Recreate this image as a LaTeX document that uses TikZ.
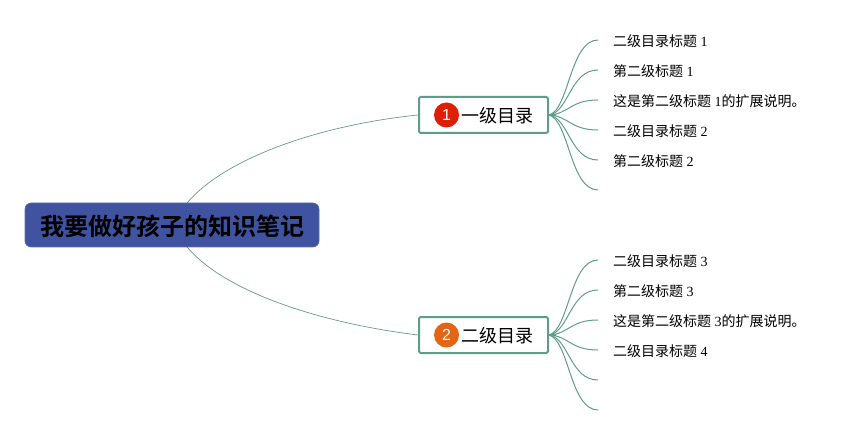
\documentclass[tikz,border=0pt]{standalone}
\usepackage{fontspec}
\setmainfont{Liberation Serif}
\newfontfamily\cjk{Noto Sans CJK SC}
\newfontfamily\cjkbold{Noto Sans CJK SC Bold}
\newfontfamily\badgefont{Liberation Sans}
\definecolor{linkc}{HTML}{5F9C8C}
\definecolor{rootc}{HTML}{3F53A0}
\definecolor{redb}{HTML}{DC2008}
\definecolor{orangeb}{HTML}{E46614}
\tikzset{
  rootbox/.style={draw=rootc!85!white,line width=.6pt,fill=rootc,rounded corners=6pt,minimum width=294pt,minimum height=44pt,inner sep=0pt,font=\cjkbold\fontsize{24}{24}\selectfont,text=black},
  topicbox/.style={draw=linkc,line width=2pt,fill=white,rounded corners=1.5pt,minimum width=129pt,minimum height=36pt,inner sep=0pt},
  topictext/.style={inner sep=0pt,font=\cjk\fontsize{18}{18}\selectfont,text=black},
  badge/.style={circle,minimum size=25pt,inner sep=0pt,text=white,font=\badgefont\fontsize{16}{16}\selectfont},
  leaf/.style={anchor=west,inner ysep=0pt,inner xsep=15pt,font=\fontsize{14}{14}\selectfont,text=black},
  rootlink/.style={draw=linkc,line width=.7pt},
  leaflink/.style={draw=linkc,line width=1pt},
  stub/.style={draw=linkc,line width=2pt}
}
\begin{document}
\begin{tikzpicture}[x=1pt,y=-1pt]
\useasboundingbox (0,0) rectangle (866,435);
\coordinate (r1) at (187,203);
\coordinate (r2) at (187,247);
\node[topicbox] (t1) at (483.5,115) {};
\node[topicbox] (t2) at (483.5,335) {};
\draw[rootlink] (r1) .. controls (225,158) and (320,125) .. (t1.west);
\draw[rootlink] (r2) .. controls (225,292) and (320,323) .. (t2.west);
\node[rootbox] (root) at (172,225) {\raisebox{-11pt}[0pt][0pt]{我要做好孩子的知识笔记}};
\node[badge,fill=redb] (b1) at (446.5,115) {1};
\node[badge,fill=orangeb] (b2) at (446.5,335) {2};
\node[topictext] (tt1) at (497,116) {一级目录};
\node[topictext] (tt2) at (497,336) {二级目录};
\node[leaf] (a1) at (598,41) {{\cjk 二级目录标题} 1};
\node[leaf] (a2) at (598,71) {{\cjk 第二级标题} 1};
\node[leaf] (a3) at (598,101) {{\cjk 这是第二级标题} 1{\cjk 的扩展说明。}};
\node[leaf] (a4) at (598,131) {{\cjk 二级目录标题} 2};
\node[leaf] (a5) at (598,161) {{\cjk 第二级标题} 2};
\coordinate (a6) at (598,191);
\node[leaf] (c1) at (598,261) {{\cjk 二级目录标题} 3};
\node[leaf] (c2) at (598,291) {{\cjk 第二级标题} 3};
\node[leaf] (c3) at (598,321) {{\cjk 这是第二级标题} 3{\cjk 的扩展说明。}};
\node[leaf] (c4) at (598,351) {{\cjk 二级目录标题} 4};
\coordinate (c5) at (598,381);
\coordinate (c6) at (598,411);
\coordinate (h1) at (556,115);
\coordinate (h2) at (556,335);
\foreach \n/\d in {a1/-5,a2/-3,a3/-1,a4/1,a5/3,a6/5}{
  \draw[leaflink] (t1.east) .. controls +(20,\d) and +(-28,0) .. ([yshift=1pt]\n.west);
}
\foreach \n/\d in {c1/-5,c2/-3,c3/-1,c4/1,c5/3,c6/5}{
  \draw[leaflink] (t2.east) .. controls +(20,\d) and +(-28,0) .. ([yshift=1pt]\n.west);
}
\draw[stub] (t1.east) -- (h1);
\draw[stub] (t2.east) -- (h2);
\end{tikzpicture}
\end{document}
